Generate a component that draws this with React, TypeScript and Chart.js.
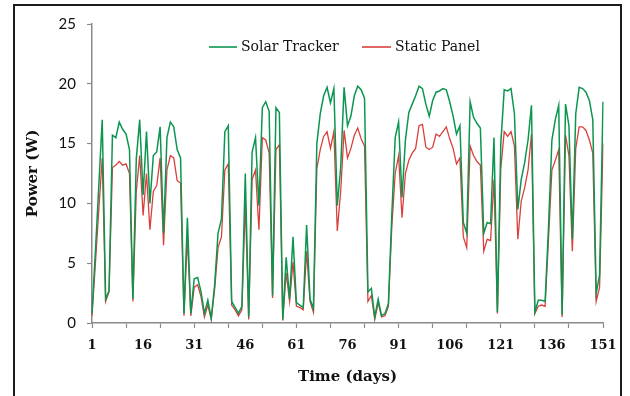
import React, { useEffect, useRef } from 'react';
import { Chart, registerables } from 'chart.js';

Chart.register(...registerables);

const days: string[] = Array.from({ length: 151 }, (_, i) => String(i + 1));
const xTickLabels = ['1', '16', '31', '46', '61', '76', '91', '106', '121', '136', '151'];
const yTicks = [0, 5, 10, 15, 20, 25];

const solarTracker = [
  0.8, 6.0, 11.5, 17.0, 2.0, 2.7, 15.7, 15.5, 16.8, 16.2,
  15.8, 14.5, 2.0, 13.7, 17.0, 10.7, 16.0, 10.0, 14.0, 14.3,
  16.4, 7.5, 15.5, 16.8, 16.4, 14.5, 13.8, 0.8, 8.8, 0.8,
  3.7, 3.8, 2.6, 0.8, 1.9, 0.4, 3.2, 7.5, 8.7, 16.0,
  16.5, 1.8, 1.3, 0.8, 1.4, 12.5, 0.5, 14.3, 15.5, 9.8,
  18.0, 18.5, 17.7, 2.3, 18.0, 17.6, 0.3, 5.5, 2.0, 7.2,
  1.7, 1.5, 1.3, 8.2, 2.0, 1.2, 15.0, 17.5, 19.0, 19.7,
  18.4, 19.6, 9.8, 13.0, 19.7, 16.5, 17.3, 19.0, 19.8, 19.5,
  18.8, 2.6, 2.9, 0.5, 2.0, 0.6, 0.8, 1.6, 9.0, 15.5,
  16.8, 10.5, 15.3, 17.6, 18.3, 19.0, 19.8, 19.6, 18.3, 17.3,
  18.6, 19.3, 19.4, 19.6, 19.5, 18.5, 17.3, 15.8, 16.5, 8.4,
  7.5, 18.5, 17.2, 16.7, 16.3, 7.5, 8.4, 8.3, 15.5, 0.9,
  15.0, 19.5, 19.4, 19.6, 17.5, 9.5, 12.0, 13.4, 15.3, 18.2,
  0.9, 1.9, 1.9, 1.8, 8.0, 15.3, 17.0, 18.2, 0.7, 18.3,
  16.5, 7.0, 17.5, 19.7, 19.6, 19.3, 18.6, 17.0, 2.5, 4.0,
  18.5,
];

const staticPanel = [
  0.6, 5.0, 9.5, 13.8, 1.8, 2.6, 13.0, 13.2, 13.5, 13.2,
  13.3, 12.5, 1.8, 11.0, 14.0, 9.0, 12.5, 7.8, 11.0, 11.5,
  13.8, 6.5, 12.8, 14.0, 13.8, 11.9, 11.7, 0.6, 7.2, 0.6,
  3.0, 3.2, 2.2, 0.5, 1.5, 0.3, 2.8, 6.3, 7.2, 12.8,
  13.3, 1.5, 1.1, 0.6, 1.1, 10.1, 0.3, 12.0, 12.8, 7.8,
  15.5, 15.3, 14.2, 2.1, 14.5, 14.9, 0.2, 4.2, 1.8, 5.1,
  1.4, 1.3, 1.1, 6.0, 1.8, 0.9, 12.9, 14.5, 15.6, 16.0,
  14.6, 16.0, 7.7, 11.0, 16.1, 13.8, 14.6, 15.7, 16.3, 15.4,
  14.8, 1.8, 2.3, 0.3, 1.7, 0.5, 0.6, 1.4, 8.0, 12.5,
  14.0, 8.8, 12.5, 13.6, 14.2, 14.6, 16.5, 16.6, 14.7, 14.5,
  14.7, 15.8, 15.6, 16.0, 16.4, 15.4, 14.6, 13.3, 13.8, 7.2,
  6.3, 14.8, 14.0, 13.5, 13.2, 6.0, 7.0, 6.9, 12.0, 0.8,
  12.9, 16.0, 15.6, 16.0, 14.8, 7.0, 10.2, 11.3, 12.8, 15.8,
  0.8, 1.4, 1.5, 1.4, 7.0, 12.8, 13.6, 14.5, 0.5, 15.7,
  14.0, 6.0, 14.6, 16.4, 16.4, 16.1, 15.3, 14.2, 1.8, 3.0,
  15.0,
];

const seriesNames = ['Solar Tracker', 'Static Panel'];
const seriesColors = ['#0b9650', '#d9403c'];

const legendPlugin = {
  id: 'insideLegend',
  afterDraw(chart: any) {
    const ctx = chart.ctx as CanvasRenderingContext2D;
    ctx.save();
    const y = 47;
    ctx.font = '14px "DejaVu Serif"';
    ctx.textBaseline = 'middle';
    ctx.textAlign = 'left';
    const items = [
      { x0: 209, x1: 237, tx: 241 },
      { x0: 362, x1: 391, tx: 395 },
    ];
    items.forEach((it, i) => {
      ctx.strokeStyle = seriesColors[i];
      ctx.lineWidth = 1.6;
      ctx.beginPath();
      ctx.moveTo(it.x0, y);
      ctx.lineTo(it.x1, y);
      ctx.stroke();
      ctx.fillStyle = '#111';
      ctx.fillText(seriesNames[i], it.tx, y);
    });
    ctx.restore();
  },
};

export default function App() {
  const ref = useRef<HTMLCanvasElement>(null);

  useEffect(() => {
    const canvas = ref.current;
    if (!canvas) return;
    const axisColor = '#8a8a8a';
    const chart = new Chart(canvas, {
      type: 'line',
      data: {
        labels: days,
        datasets: [
          {
            label: seriesNames[0],
            data: solarTracker,
            borderColor: seriesColors[0],
            backgroundColor: seriesColors[0],
            borderWidth: 1.5,
            pointRadius: 0,
            tension: 0,
          },
          {
            label: seriesNames[1],
            data: staticPanel,
            borderColor: seriesColors[1],
            backgroundColor: seriesColors[1],
            borderWidth: 1.3,
            pointRadius: 0,
            tension: 0,
          },
        ],
      },
      options: {
        responsive: false,
        animation: false,
        devicePixelRatio: 1,
        layout: { padding: { left: 0, right: 27, top: 24, bottom: 0 } },
        plugins: {
          legend: { display: false },
          tooltip: { enabled: false },
        },
        scales: {
          x: {
            type: 'category',
            offset: false,
            grid: {
              drawOnChartArea: false,
              drawTicks: true,
              tickLength: 5,
              tickWidth: 1.2,
              tickColor: (c: any) => (c.index % 10 === 0 ? axisColor : 'rgba(0,0,0,0)'),
            },
            border: { display: true, color: axisColor, width: 1.5 },
            ticks: {
              autoSkip: false,
              maxRotation: 0,
              minRotation: 0,
              padding: 10,
              color: '#111',
              font: { family: '"DejaVu Serif"', size: 13, weight: 'bold' },
              callback: (_v: any, idx: number) =>
                xTickLabels.includes(days[idx]) ? days[idx] : '',
            },
            title: {
              display: true,
              text: 'Time (days)',
              color: '#111',
              font: { family: '"DejaVu Serif"', size: 15, weight: 'bold' },
              padding: { top: 0, bottom: 10 },
            },
            afterFit: (scale: any) => {
              scale.height = 73;
            },
          },
          y: {
            min: 0,
            max: 25,
            afterBuildTicks: (scale: any) => {
              scale.ticks = yTicks.map((v) => ({ value: v }));
            },
            grid: {
              drawOnChartArea: false,
              drawTicks: true,
              tickLength: 5,
              tickWidth: 1.2,
              tickColor: axisColor,
            },
            border: { display: true, color: axisColor, width: 1.5 },
            ticks: {
              padding: 11,
              color: '#111',
              font: { family: 'Lato', size: 15 },
            },
            title: {
              display: true,
              text: 'Power (W)',
              color: '#111',
              font: { family: '"DejaVu Serif"', size: 15, weight: 'bold' },
              padding: { top: 24, bottom: 0 },
            },
            afterFit: (scale: any) => {
              scale.width = 92;
            },
          },
        },
      },
      plugins: [legendPlugin],
    } as any);
    return () => chart.destroy();
  }, []);

  return (
    <div
      style={{
        position: 'absolute',
        left: 0,
        top: 0,
        width: 630,
        height: 396,
        background: '#fff',
        overflow: 'hidden',
      }}
    >
      <canvas ref={ref} width={630} height={396} style={{ display: 'block' }} />
      <div
        style={{
          position: 'absolute',
          left: 13,
          top: 4,
          width: 605,
          height: 500,
          border: '2.5px solid #1c1c1c',
          pointerEvents: 'none',
        }}
      />
    </div>
  );
}
